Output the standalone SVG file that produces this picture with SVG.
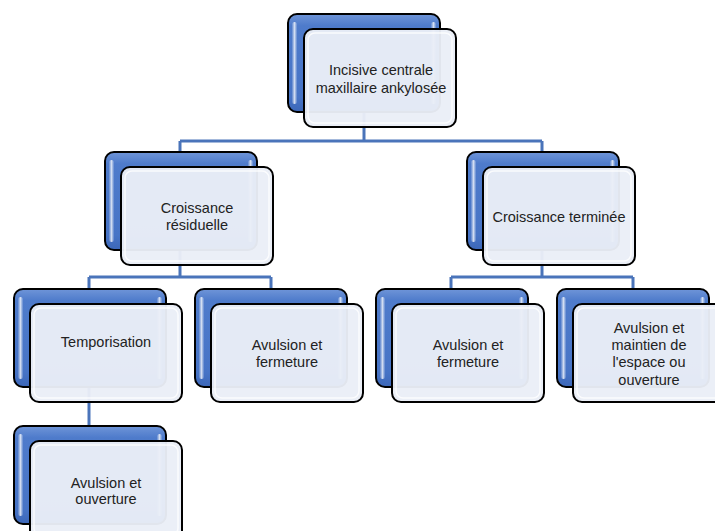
<svg xmlns="http://www.w3.org/2000/svg" width="715" height="531" viewBox="0 0 715 531">
<style>
.conn{stroke:#4A74BA;stroke-width:3;fill:none}
.back{fill:url(#blue);stroke:#000;stroke-width:2}
.hl{fill:url(#hlg)}
.front{fill:#EAEEF7;fill-opacity:0.96;stroke:#000;stroke-width:2}
.inner{fill:none;stroke:#fff;stroke-opacity:0.8;stroke-width:1.5}
text{font-family:"Liberation Sans",Arial,sans-serif;font-size:14.5px;fill:#222;text-anchor:middle}
</style>
<defs>
<linearGradient id="blue" x1="0" y1="0" x2="0" y2="1">
<stop offset="0" stop-color="#6F95D8"/>
<stop offset="0.12" stop-color="#4E7BCB"/>
<stop offset="0.85" stop-color="#4774C6"/>
<stop offset="1" stop-color="#3C67B8"/>
</linearGradient>
<linearGradient id="hlg" x1="0" y1="0" x2="1" y2="0">
<stop offset="0" stop-color="#fff" stop-opacity="0.1"/>
<stop offset="0.5" stop-color="#fff" stop-opacity="0.75"/>
<stop offset="1" stop-color="#fff" stop-opacity="0.1"/>
</linearGradient>
<g id="box">
<rect class="back" x="0" y="0" width="152" height="98" rx="9"/>
<rect class="hl" x="4" y="8" width="5" height="82" rx="2.5"/>
<rect class="hl" x="143" y="8" width="5" height="82" rx="2.5"/>
<rect class="front" x="16" y="15" width="152" height="98" rx="9"/>
<rect class="inner" x="20" y="19" width="144" height="90" rx="7"/>
</g>
</defs>
<rect width="715" height="531" fill="#fff"/>
<g id="connectors">
<path class="conn" d="M364 112V141M180 141H542M180 141V152M542 141V152"/>
<path class="conn" d="M180 249V277M89 277H271M89 277V289M271 277V289"/>
<path class="conn" d="M542 249V277M451 277H633M451 277V289M633 277V289"/>
<path class="conn" d="M89 387V426"/>
</g>
<g id="n-root"><use href="#box" x="288" y="14"/><text x="381" y="75">Incisive centrale</text><text x="381" y="93">maxillaire ankylosée</text></g>
<g id="n-residuelle"><use href="#box" x="105" y="152"/><text x="197" y="213">Croissance</text><text x="197" y="230">résiduelle</text></g>
<g id="n-terminee"><use href="#box" x="467" y="152"/><text x="559" y="222">Croissance terminée</text></g>
<g id="n-temporisation"><use href="#box" x="14" y="289"/><text x="106" y="347">Temporisation</text></g>
<g id="n-avf1"><use href="#box" x="195" y="289"/><text x="287" y="350">Avulsion et</text><text x="287" y="367">fermeture</text></g>
<g id="n-avf2"><use href="#box" x="376" y="289"/><text x="468" y="350">Avulsion et</text><text x="468" y="367">fermeture</text></g>
<g id="n-avm"><use href="#box" x="557" y="289"/><text x="649" y="333">Avulsion et</text><text x="649" y="350">maintien de</text><text x="649" y="367">l'espace ou</text><text x="649" y="385">ouverture</text></g>
<g id="n-avo"><use href="#box" x="14" y="426"/><text x="106" y="488">Avulsion et</text><text x="106" y="504">ouverture</text></g>
</svg>
